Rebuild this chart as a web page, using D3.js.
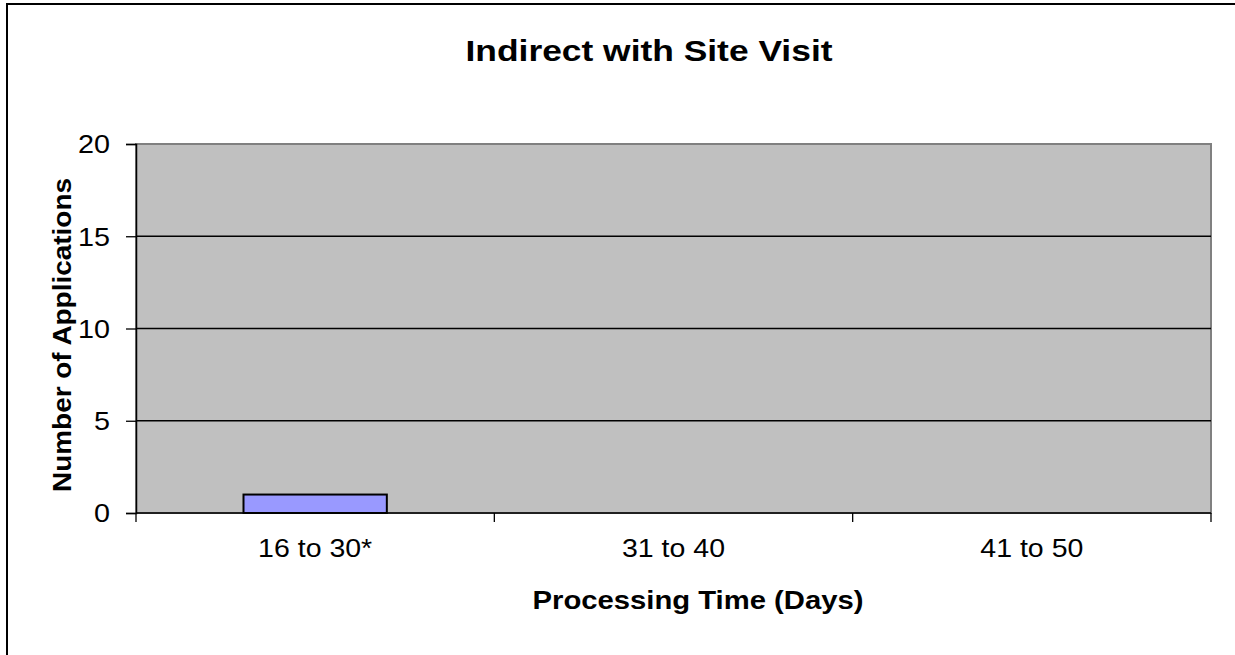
<!DOCTYPE html>
<html lang="en">
<head>
<meta charset="UTF-8">
<title>Indirect with Site Visit</title>
<script src="https://d3js.org/d3.v7.min.js"></script>
<style>
    body { margin: 0; background: white; }
    svg { display: block; font-family: "Liberation Sans", Arial, sans-serif; }
</style>
</head>
<body>
<svg id="chart"></svg>
<script>
    // data
    const categories = ["16 to 30*", "31 to 40", "41 to 50"];
    const counts = [1, 0, 0];
    const yTicks = [0, 5, 10, 15, 20];

    const width = 1235, height = 655;
    const svg = d3.select("#chart").attr("width", width).attr("height", height);

    // the original picture is a little wider than tall, so text is stretched sideways
    function stretch(sel, k) {
        sel.each(function() {
            const len = this.getComputedTextLength();
            d3.select(this).attr("textLength", len * k).attr("lengthAdjust", "spacingAndGlyphs");
        });
    }

    // outer frame (left and top edges show)
    svg.append("rect")
        .attr("x", 7).attr("y", 4)
        .attr("width", width + 10).attr("height", height + 10)
        .attr("fill", "white").attr("stroke", "black").attr("stroke-width", 2);

    const plot = {left: 136, top: 144, right: 1211, bottom: 513};

    const xEdges = d3.scaleLinear()
        .domain([0, categories.length])
        .range([plot.left, plot.right]);

    const y = d3.scaleLinear()
        .domain([0, 20])
        .range([plot.bottom, plot.top]);

    // plot background
    svg.append("rect")
        .attr("x", plot.left).attr("y", plot.top)
        .attr("width", plot.right - plot.left).attr("height", plot.bottom - plot.top)
        .attr("fill", "#c0c0c0").attr("stroke", "#808080").attr("stroke-width", 2);

    // gridlines
    svg.append("g").selectAll("line")
        .data(yTicks.filter(d => d > 0 && d < 20))
        .join("line")
        .attr("x1", plot.left).attr("x2", plot.right)
        .attr("y1", d => y(d)).attr("y2", d => y(d))
        .attr("stroke", "black").attr("stroke-width", 1.3);

    // bars
    const band = (plot.right - plot.left) / categories.length;
    const barW = band * 0.4;
    svg.append("g").selectAll("rect")
        .data(counts.map((v, i) => ({i: i, v: v})).filter(d => d.v > 0))
        .join("rect")
        .attr("x", d => xEdges(d.i + 0.5) - barW / 2)
        .attr("y", d => y(d.v))
        .attr("width", barW)
        .attr("height", d => y(0) - y(d.v))
        .attr("fill", "#9999ff").attr("stroke", "black").attr("stroke-width", 2);

    // y axis
    const yAxis = svg.append("g").attr("transform", `translate(${plot.left},0)`)
        .call(d3.axisLeft(y).tickValues(yTicks).tickSize(10).tickPadding(16));
    yAxis.select(".domain").attr("stroke", "black").attr("stroke-width", 1.5);
    yAxis.selectAll(".tick line").attr("stroke", "black").attr("stroke-width", 1.3);
    yAxis.selectAll("text").attr("font-size", 25).attr("fill", "black")
        .attr("font-family", "Liberation Sans, Arial, sans-serif")
        .attr("dy", "0.35em");
    stretch(yAxis.selectAll("text"), 1.15);

    // x axis
    const xAxis = svg.append("g").attr("transform", `translate(0,${plot.bottom})`);
    xAxis.append("line")
        .attr("x1", plot.left).attr("x2", plot.right)
        .attr("y1", 0).attr("y2", 0)
        .attr("stroke", "black").attr("stroke-width", 1.5);
    xAxis.selectAll("line.tick")
        .data(d3.range(categories.length + 1))
        .join("line").attr("class", "tick")
        .attr("x1", d => xEdges(d)).attr("x2", d => xEdges(d))
        .attr("y1", 0).attr("y2", 9)
        .attr("stroke", "black").attr("stroke-width", 1.3);
    const xLabels = xAxis.selectAll("text")
        .data(categories)
        .join("text")
        .attr("x", (d, i) => xEdges(i + 0.5))
        .attr("y", 44)
        .attr("text-anchor", "middle")
        .attr("font-size", 25)
        .text(d => d);
    stretch(xLabels, 1.14);

    // titles
    svg.append("text")
        .attr("x", 649).attr("y", 61)
        .attr("text-anchor", "middle")
        .attr("font-size", 30).attr("font-weight", "bold")
        .attr("textLength", 367).attr("lengthAdjust", "spacingAndGlyphs")
        .text("Indirect with Site Visit");

    svg.append("text")
        .attr("x", 698).attr("y", 609)
        .attr("text-anchor", "middle")
        .attr("font-size", 25).attr("font-weight", "bold")
        .attr("textLength", 331).attr("lengthAdjust", "spacingAndGlyphs")
        .text("Processing Time (Days)");

    svg.append("text")
        .attr("transform", `translate(71,335) rotate(-90)`)
        .attr("text-anchor", "middle")
        .attr("font-size", 25).attr("font-weight", "bold")
        .attr("textLength", 314).attr("lengthAdjust", "spacingAndGlyphs")
        .text("Number of Applications");
</script>
</body>
</html>
